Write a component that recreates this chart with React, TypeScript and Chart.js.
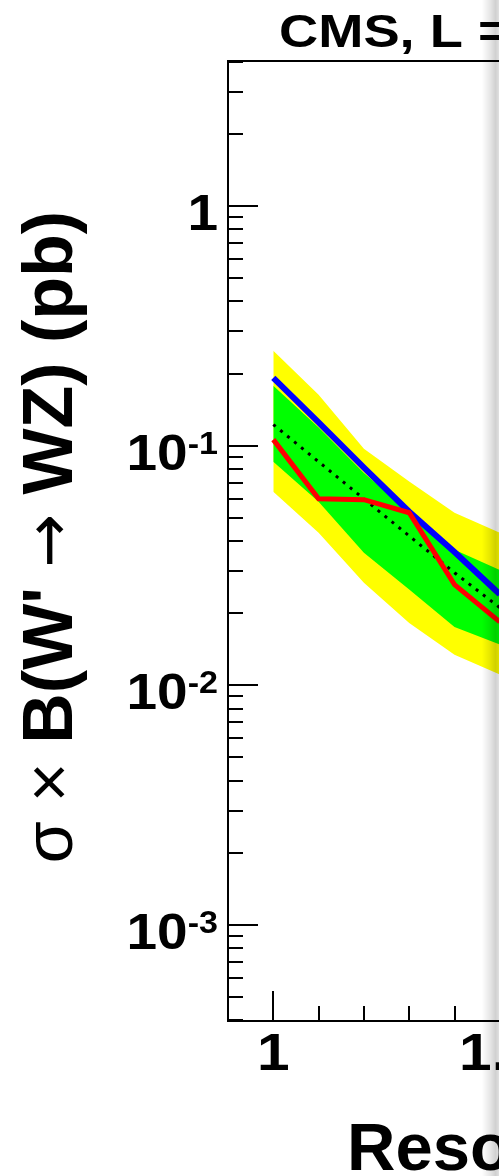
import React, { useEffect, useRef } from "react";
import { Chart, registerables } from "chart.js";

Chart.register(...registerables);

// ---- data ----
const massTeV = [1.0, 1.1, 1.2, 1.3, 1.4, 1.5];
const theoryXsec = [0.192, 0.125, 0.081, 0.053, 0.036, 0.024];
const observedLimit = [0.106, 0.060, 0.0595, 0.0525, 0.0263, 0.0184];
const expectedLimit = [0.1225, 0.0857, 0.060, 0.042, 0.0295, 0.0211];
const oneSigmaUp = [0.178, 0.119, 0.077, 0.053, 0.0368, 0.0303];
const oneSigmaDown = [0.0857, 0.0583, 0.0357, 0.0251, 0.0175, 0.0148];
const twoSigmaUp = [0.249, 0.163, 0.097, 0.0708, 0.0525, 0.0433];
const twoSigmaDown = [0.0643, 0.0433, 0.0268, 0.0182, 0.0134, 0.0111];

const yTickValues = [1, 0.1, 0.01, 0.001];
const yTickBase = ["1", "10", "10", "10"];
const yTickExp = ["", "-1", "-2", "-3"];
const xTickValues = [1, 1.5, 2];
const xTickLabels = ["1", "1.5", "2"];

const titleText = "CMS, L = 19.6 fb\u207B\u00B9, \u221As = 8 TeV";
const xTitle = "Resonance mass (TeV)";
const yTitleParts = [
  { text: "\u03C3 \u00D7 ", font: "68px", family: "serif" },
  { text: "B(W' ", font: "bold 70px", family: "sans" },
  { text: "\u2192", font: "64px", family: "arrow" },
  { text: " WZ) (pb)", font: "bold 70px", family: "sans" },
];

const X_MIN = 0.9;
const X_MAX = 2.1;
const Y_MIN = 3.973e-4;
const Y_MAX = 4.03;

const FONT = '"Liberation Sans", Arial, Helvetica, sans-serif';
const FAMILIES: Record<string, string> = {
  sans: FONT,
  serif: '"Liberation Sans", Arial, sans-serif',
  arrow: '"DejaVu Sans", sans-serif',
};
const W = 1100;
const H = 1176;

const pts = (ys: number[]) => massTeV.map((x, i) => ({ x, y: ys[i] }));

function drawScaledText(ctx: CanvasRenderingContext2D, text: string, x: number, y: number, sx: number, align: "left" | "right" | "center") {
  const w = ctx.measureText(text).width * sx;
  let ox = x;
  if (align === "right") ox = x - w;
  if (align === "center") ox = x - w / 2;
  ctx.save();
  ctx.translate(ox, y);
  ctx.scale(sx, 1);
  ctx.textAlign = "left";
  ctx.fillText(text, 0, 0);
  ctx.restore();
  return w;
}

const rootAxes = {
  id: "rootAxes",
  afterDatasetsDraw(chart: any) {
    const { ctx, chartArea: a, scales } = chart;
    const xs = scales.x;
    const ys = scales.y;
    ctx.save();
    ctx.strokeStyle = "#000";
    ctx.fillStyle = "#000";
    ctx.lineWidth = 2;
    ctx.strokeRect(a.left, a.top, a.right - a.left, a.bottom - a.top);

    // y ticks (inward)
    for (let e = -4; e <= 1; e++) {
      for (let m = 1; m <= 9; m++) {
        const v = m * Math.pow(10, e);
        if (v <= ys.min || v >= ys.max) continue;
        const py = Math.round(ys.getPixelForValue(v));
        ctx.beginPath();
        ctx.moveTo(a.left, py);
        ctx.lineTo(a.left + (m === 1 ? 30 : 15), py);
        ctx.stroke();
      }
    }
    // x ticks (inward)
    for (let i = 1; ; i++) {
      const v = Math.round((X_MIN + i * 0.1) * 10) / 10;
      if (v >= xs.max) break;
      const px = Math.round(xs.getPixelForValue(v));
      const major = Math.round(v * 10) % 5 === 0;
      ctx.beginPath();
      ctx.moveTo(px, a.bottom);
      ctx.lineTo(px, a.bottom - (major ? 30 : 15));
      ctx.stroke();
    }

    // y tick labels
    const tickSx = 1.1;
    yTickValues.forEach((v, i) => {
      const py = ys.getPixelForValue(v);
      const right = a.left - 10;
      const base = py + 24;
      ctx.font = `bold 31px ${FONT}`;
      const wSup = yTickExp[i] ? ctx.measureText(yTickExp[i]).width * tickSx : 0;
      if (yTickExp[i]) drawScaledText(ctx, yTickExp[i], right, base - 16, tickSx, "right");
      ctx.font = `bold 50px ${FONT}`;
      drawScaledText(ctx, yTickBase[i], right - wSup, base, tickSx, "right");
    });
    // x tick labels
    ctx.font = `bold 51px ${FONT}`;
    xTickValues.forEach((v, i) => {
      const px = xs.getPixelForValue(v);
      drawScaledText(ctx, xTickLabels[i], px, a.bottom + 49, 1.15, "center");
    });

    // x title
    ctx.font = `bold 67px ${FONT}`;
    drawScaledText(ctx, xTitle, a.left + 119, a.bottom + 149, 1, "left");

    // y title (rotated)
    ctx.save();
    ctx.translate(72, (a.top + a.bottom) / 2 - 4);
    ctx.rotate(-Math.PI / 2);
    ctx.textAlign = "left";
    const widths = yTitleParts.map((p) => {
      ctx.font = `${p.font} ${FAMILIES[p.family]}`;
      return ctx.measureText(p.text).width;
    });
    let cx = -widths.reduce((s, w) => s + w, 0) / 2;
    yTitleParts.forEach((p, i) => {
      ctx.font = `${p.font} ${FAMILIES[p.family]}`;
      ctx.fillText(p.text, cx, p.family === "arrow" ? -2 : 0);
      cx += widths[i];
    });
    ctx.restore();

    // top title
    ctx.font = `bold 46px ${FONT}`;
    drawScaledText(ctx, titleText, a.left + 51, a.top - 14, 1.18, "left");

    ctx.restore();
  },
};

export default function App() {
  const ref = useRef<HTMLCanvasElement>(null);
  useEffect(() => {
    if (!ref.current) return;
    const left = 228;
    const top = 61;
    const bottom = 1021;
    const pxPerUnit = 453;
    const right = left + (X_MAX - X_MIN) * pxPerUnit;
    const band = (data: number[], color: string, fill: any) => ({
      data: pts(data),
      borderWidth: 0,
      borderColor: "rgba(0,0,0,0)",
      backgroundColor: color,
      fill,
      pointRadius: 0,
    });
    const chart = new Chart(ref.current, {
      type: "line",
      data: {
        datasets: [
          { label: "Observed", data: pts(observedLimit), borderColor: "#ff0000", borderWidth: 5, fill: false, pointRadius: 0 },
          { label: "W' theory", data: pts(theoryXsec), borderColor: "#0000ff", borderWidth: 6, fill: false, pointRadius: 0 },
          { label: "Expected", data: pts(expectedLimit), borderColor: "#000000", borderWidth: 3, borderDash: [3, 6], fill: false, pointRadius: 0 },
          band(oneSigmaUp, "#00ff00", "+1"),
          band(oneSigmaDown, "rgba(0,0,0,0)", false),
          band(twoSigmaUp, "#ffff00", "+1"),
          band(twoSigmaDown, "rgba(0,0,0,0)", false),
        ] as any,
      },
      options: {
        animation: false,
        responsive: false,
        maintainAspectRatio: false,
        layout: { padding: { left, top, right: W - right, bottom: H - bottom } },
        scales: {
          x: { type: "linear", min: X_MIN, max: X_MAX, display: false },
          y: { type: "logarithmic", min: Y_MIN, max: Y_MAX, display: false },
        },
        elements: { line: { tension: 0 }, point: { radius: 0 } },
        plugins: { legend: { display: false }, tooltip: { enabled: false }, title: { display: false } },
      } as any,
      plugins: [rootAxes],
    });
    return () => chart.destroy();
  }, []);

  return (
    <div style={{ position: "fixed", left: 0, top: 0, width: 499, height: H, overflow: "hidden", background: "#fff" }}>
      <canvas ref={ref} width={W} height={H} style={{ display: "block", width: W, height: H }} />
      <div
        style={{
          position: "absolute",
          left: 482,
          top: 0,
          width: 17,
          height: H,
          background: "linear-gradient(to right, rgba(0,0,0,0) 0%, rgba(0,0,0,0.10) 50%, rgba(0,0,0,0.18) 80%, rgba(0,0,0,0.12) 100%)",
        }}
      />
    </div>
  );
}
